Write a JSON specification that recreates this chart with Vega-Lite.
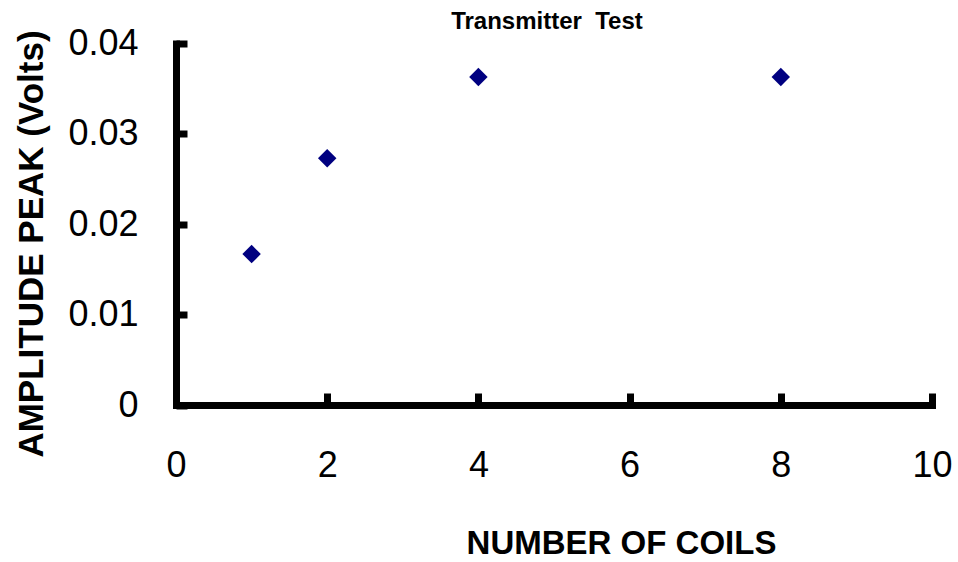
{
  "$schema": "https://vega.github.io/schema/vega-lite/v6.json",
  "autosize": "none",
  "width": 756,
  "height": 361.5,
  "padding": {"left": 176, "top": 43.5, "right": 26, "bottom": 157},
  "background": "white",
  "config": {
    "view": {"stroke": null},
    "font": "Liberation Sans"
  },
  "title": {
    "text": "Transmitter\u00a0\u00a0Test",
    "font": "Liberation Sans",
    "fontSize": 24,
    "fontWeight": "bold",
    "color": "black",
    "anchor": "middle",
    "frame": "group",
    "baseline": "alphabetic",
    "offset": -27,
    "dx": -7
  },
  "data": {
    "values": [
      {"coils": 1, "amplitude": 0.0167},
      {"coils": 2, "amplitude": 0.0273},
      {"coils": 4, "amplitude": 0.0363},
      {"coils": 8, "amplitude": 0.0363}
    ]
  },
  "mark": {"type": "point", "shape": "diamond", "filled": true, "color": "#000080", "size": 340, "opacity": 1},
  "encoding": {
    "x": {
      "field": "coils",
      "type": "quantitative",
      "scale": {"domain": [0, 10], "nice": false, "zero": true},
      "axis": {
        "title": "NUMBER OF COILS",
        "values": [0, 2, 4, 6, 8, 10],
        "grid": false,
        "domainColor": "black",
        "domainWidth": 7,
        "domainCap": "square",
        "tickColor": "black",
        "tickWidth": 7,
        "tickSize": -12,
        "labelFont": "Liberation Sans",
        "labelFontSize": 36,
        "labelColor": "black",
        "labelPadding": 55,
        "labelFlush": false,
        "titleFont": "Liberation Sans",
        "titleFontSize": 33,
        "titleFontWeight": "bold",
        "titleColor": "black",
        "titleBaseline": "alphabetic",
        "titleX": 445,
        "titleY": 148
      }
    },
    "y": {
      "field": "amplitude",
      "type": "quantitative",
      "scale": {"domain": [0, 0.04], "nice": false},
      "axis": {
        "title": "AMPLITUDE PEAK (Volts)",
        "values": [0, 0.01, 0.02, 0.03, 0.04],
        "format": "~g",
        "grid": false,
        "domainColor": "black",
        "domainWidth": 7,
        "domainCap": "square",
        "tickColor": "black",
        "tickWidth": 7,
        "tickSize": -11,
        "labelFont": "Liberation Sans",
        "labelFontSize": 36,
        "labelColor": "black",
        "labelPadding": 49,
        "labelFlush": false,
        "labelBaseline": "middle",
        "titleFont": "Liberation Sans",
        "titleFontSize": 35,
        "titleFontWeight": "bold",
        "titleColor": "black",
        "titleBaseline": "alphabetic",
        "titleAngle": -90,
        "titleX": -134,
        "titleY": 200
      }
    }
  }
}
